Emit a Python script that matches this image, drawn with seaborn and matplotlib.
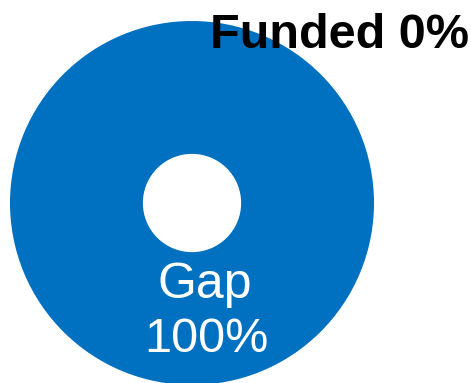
import matplotlib
matplotlib.use("Agg")
import matplotlib.pyplot as plt
import seaborn as sns

categories = ["Funded", "Gap"]
values = [0, 100]
colors = ["#0070C0", "#0070C0"]

sns.set_style("white")
plt.rcParams['font.family'] = ['Liberation Sans', 'DejaVu Sans']

fig = plt.figure(figsize=(4.71, 3.83), dpi=100)
ax = fig.add_axes([0, 0, 1, 1])
ax.pie(values, colors=colors, startangle=180, counterclock=False,
       radius=1.0, wedgeprops=dict(width=0.73, edgecolor="none"))
ax.set_aspect('auto')
ax.set_xlim(-192/182, (471-192)/182)
ax.set_ylim(-180/182, 203/182)
ax.axis('off')

ax.text((340-192)/182, (203-36)/182, f"{categories[0]} {values[0]}%", fontsize=35, fontweight='bold',
        ha='center', va='center', color='black')
ax.text((205-192)/182, (203-285)/182, categories[1], fontsize=36, ha='center', va='center', color='white')
ax.text((206-192)/182, (203-339)/182, f"{values[1]}%", fontsize=35, ha='center', va='center', color='white')

fig.savefig("out.png", dpi=100)
